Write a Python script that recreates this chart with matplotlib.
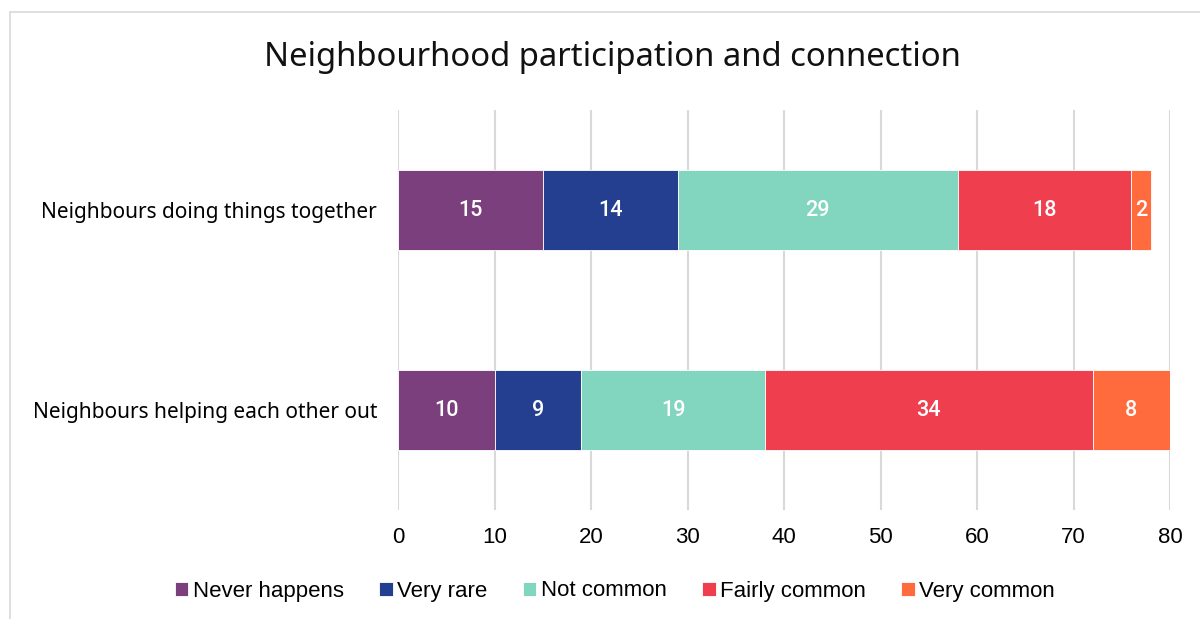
import matplotlib
matplotlib.use("Agg")
import matplotlib.pyplot as plt
from matplotlib.patches import Rectangle

categories = ["Neighbours helping each other out", "Neighbours doing things together"]
series_names = ["Never happens", "Very rare", "Not common", "Fairly common", "Very common"]
series_values = [
    [10, 15],
    [9, 14],
    [19, 29],
    [34, 18],
    [8, 2],
]
colors = ["#7B3F7E", "#243F8F", "#82D5BE", "#EF3E4E", "#FF6B3D"]
x_ticks = [0, 10, 20, 30, 40, 50, 60, 70, 80]

plt.rcParams["font.family"] = ["Liberation Sans", "DejaVu Sans"]
NARROW = ["Liberation Sans Narrow", "Liberation Sans", "DejaVu Sans"]
HUMAN = ["Noto Sans", "DejaVu Sans"]
VALUE = ["Roboto", "Noto Sans", "DejaVu Sans"]

fig = plt.figure(figsize=(12, 6.19), dpi=100)
ax = fig.add_axes([398 / 1200, 1 - 510 / 619, 772 / 1200, 400 / 619])

# chart-area border
fig.patches.append(Rectangle((10 / 1200, -0.05), 1.2, 1 - 12 / 619 + 0.05,
                             transform=fig.transFigure, fill=False,
                             edgecolor="#D9D9D9", linewidth=1.2))

ypos = list(range(len(categories)))
left = [0] * len(categories)
for name, vals, col in zip(series_names, series_values, colors):
    bars = ax.barh(ypos, vals, left=left, height=0.4, color=col,
                   edgecolor="white", linewidth=0.6, label=name, zorder=3)
    for b, v in zip(bars, vals):
        ax.text(b.get_x() + b.get_width() / 2, b.get_y() + b.get_height() / 2,
                str(v), ha="center", va="center", color="white",
                fontsize=15.5, fontweight="medium", family=VALUE, zorder=4)
    left = [l + v for l, v in zip(left, vals)]

ax.set_xlim(0, 80)
ax.set_ylim(-0.5, 1.5)
ax.set_xticks(x_ticks)
ax.set_xticklabels([str(t) for t in x_ticks], fontsize=16, family=NARROW)
ax.set_yticks(ypos)
ax.set_yticklabels(categories, fontsize=15, family=HUMAN)
ax.tick_params(axis="both", length=0)
ax.tick_params(axis="x", pad=12)
ax.tick_params(axis="y", pad=15)
ax.grid(axis="x", color="#D9D9D9", linewidth=1.5, zorder=0)
for s in ax.spines.values():
    s.set_visible(False)

fig.text(612 / 1200, 1 - 57 / 619, "Neighbourhood participation and connection",
         ha="center", va="center", fontsize=23.7,
         family=HUMAN, color="#111111")

fig.legend(loc="center", bbox_to_anchor=(615 / 1200, 1 - 591 / 619), ncol=5,
           frameon=False, prop={"family": NARROW, "size": 16},
           handlelength=0.6, handleheight=0.6,
           handletextpad=0.2, columnspacing=1.6)

fig.savefig("out.png", dpi=100, facecolor="white")
